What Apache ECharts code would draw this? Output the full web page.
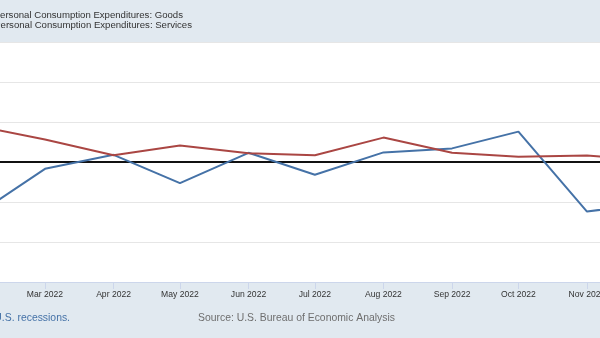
<!DOCTYPE html>
<html>
<head>
<meta charset="utf-8">
<style>
  html, body { margin: 0; padding: 0; background: #e1e9f0; }
  #chart { width: 600px; height: 338px; }
</style>
<script src="https://cdn.jsdelivr.net/npm/echarts@6/dist/echarts.min.js"></script>
</head>
<body>
<div id="chart"></div>
<script>
// Monthly observations (first of each month), percent change
const months = ['2022-02', '2022-03', '2022-04', '2022-05', '2022-06', '2022-07',
                '2022-08', '2022-09', '2022-10', '2022-11', '2022-12'];
const goods    = [-1.21, -0.17, 0.18, -0.53, 0.23, -0.32, 0.24, 0.34, 0.76, -1.24, -1.02];
const services = [0.87, 0.56, 0.17, 0.41, 0.22, 0.17, 0.61, 0.23, 0.13, 0.16, 0.04];
const seriesNames = ['Personal Consumption Expenditures: Goods',
                     'Personal Consumption Expenditures: Services'];
const monthNames = ['Jan', 'Feb', 'Mar', 'Apr', 'May', 'Jun',
                    'Jul', 'Aug', 'Sep', 'Oct', 'Nov', 'Dec'];

const DAY = 86400000;
function toTime(s) {
  const [y, m] = s.split('-').map(Number);
  return Date.UTC(y, m - 1, 1);
}
const times = months.map(toTime);
const goodsData = times.map((t, i) => [t, goods[i]]);
const servicesData = times.map((t, i) => [t, services[i]]);

// visible date window
const xMin = Date.UTC(2022, 2, 1) - 20.34 * DAY;
const xMax = Date.UTC(2022, 10, 1) + 5.88 * DAY;

const FONT = '"Liberation Sans", Arial, sans-serif';

const chart = echarts.init(document.getElementById('chart'));
chart.setOption({
  useUTC: true,
  backgroundColor: '#e1e9f0',
  animation: false,
  grid: {
    left: 0, right: 0, top: 42, bottom: 56,
    outerBoundsMode: 'none',
    containLabel: false,
    show: true, backgroundColor: '#ffffff', borderWidth: 0
  },
  xAxis: {
    type: 'time',
    min: xMin,
    max: xMax,
    splitNumber: 9,
    minInterval: 28 * DAY,
    maxInterval: 31 * DAY,
    axisLine: { show: true, onZero: false, lineStyle: { color: '#ccd6eb', width: 1 } },
    axisTick: { show: true, length: 7, lineStyle: { color: '#ccd6eb', width: 1 } },
    splitLine: { show: false },
    axisLabel: {
      color: '#333333',
      fontSize: 8.6,
      fontFamily: FONT,
      margin: 8,
      formatter: function (v) {
        const d = new Date(v);
        return monthNames[d.getUTCMonth()] + ' ' + d.getUTCFullYear();
      }
    }
  },
  yAxis: {
    type: 'value',
    min: -3,
    max: 3,
    interval: 1,
    axisLine: { show: false },
    axisTick: { show: false },
    axisLabel: { show: false },
    splitLine: { show: true, lineStyle: { color: '#e6e6e6', width: 1 } }
  },
  series: [
    {
      name: seriesNames[0],
      type: 'line',
      data: goodsData,
      showSymbol: false,
      symbol: 'none',
      lineStyle: { color: '#4572a7', width: 2 },
      itemStyle: { color: '#4572a7' },
      z: 3,
      markLine: {
        silent: true,
        symbol: 'none',
        label: { show: false },
        lineStyle: { color: '#111111', width: 2, type: 'solid' },
        data: [{ yAxis: 0 }],
        z: 2
      }
    },
    {
      name: seriesNames[1],
      type: 'line',
      data: servicesData,
      showSymbol: false,
      symbol: 'none',
      lineStyle: { color: '#aa4643', width: 2 },
      itemStyle: { color: '#aa4643' },
      z: 3
    }
  ],
  graphic: [
    {
      type: 'text', right: 417, top: 10,
      style: { text: seriesNames[0], fill: '#333333', font: '9.6px ' + FONT }
    },
    {
      type: 'text', right: 408, top: 20,
      style: { text: seriesNames[1], fill: '#333333', font: '9.6px ' + FONT }
    },
    {
      type: 'text', right: 530, top: 313,
      style: { text: 'U.S. recessions.', fill: '#4572a7', font: '10.4px ' + FONT }
    },
    {
      type: 'text', left: 198, top: 313,
      style: { text: 'Source: U.S. Bureau of Economic Analysis', fill: '#6e6e6e', font: '10.4px ' + FONT }
    }
  ]
});
</script>
</body>
</html>
